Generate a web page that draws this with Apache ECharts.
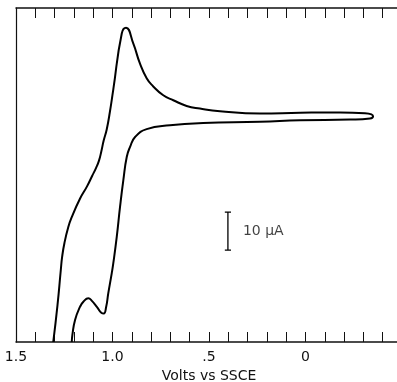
<!DOCTYPE html>
<html>
<head>
<meta charset="utf-8">
<script src="https://cdn.jsdelivr.net/npm/echarts@6/dist/echarts.min.js"></script>
<style>
html,body{margin:0;padding:0;background:#fff;}
#main{width:397px;height:382px;}
</style>
</head>
<body>
<div id="main"></div>
<script>
// cyclic voltammogram, traced point by point (V vs SSCE, uA)
var volts = [1.307, 1.285, 1.268, 1.261, 1.249, 1.229, 1.211, 1.168, 1.132, 1.105, 1.085, 1.070, 1.058,
  1.046, 1.030, 1.013, 0.996, 0.952, 0.930,
  0.892, 0.858, 0.823, 0.790, 0.737, 0.685, 0.616, 0.547, 0.443, 0.236, 0.028, -0.179, -0.308, -0.350,
  -0.334, -0.231, 0.028, 0.236, 0.530, 0.702, 0.823, 0.883, 0.909, 0.926, 0.944, 0.961, 0.978, 0.996,
  1.004, 1.022, 1.033, 1.045, 1.058, 1.080, 1.108, 1.125, 1.151, 1.168, 1.194, 1.208, 1.211];
var current = [0, 9.7, 18.9, 22.4, 26.1, 30.3, 32.9, 37.8, 41.0, 43.8, 45.9, 47.8, 50.2,
  53.0, 56.0, 60.8, 66.5, 81.3, 82.8,
  78.6, 73.4, 69.5, 67.4, 65.0, 63.7, 62.2, 61.5, 60.8, 60.2, 60.4, 60.5, 60.3, 59.5,
  58.9, 58.6, 58.4, 58.0, 57.7, 57.1, 56.1, 54.0, 51.4, 48.8, 42.6, 35.6, 27.7, 20.7,
  18.1, 12.8, 9.2, 7.5, 7.7, 9.2, 10.9, 11.5, 10.6, 9.3, 5.8, 1.8, 0];

// axis ticks / labels
var tickLabels = {'1.5': '1.5', '1': '1.0', '0.5': '.5', '0': '0'};

// 10 uA scale bar
var barV = 0.402;
var barLow = 24.2;
var barHigh = 34.2;
var barText = '10 \u03bcA';

var cv = [];
for (var i = 0; i < volts.length; i++) {
	cv.push([volts[i], current[i]]);
}
var sw = 0.016;
var bar = [
	[barV + sw, barHigh], [barV - sw, barHigh], [barV, barHigh],
	[barV, barLow], [barV - sw, barLow], [barV + sw, barLow]
];

var myChart = echarts.init(document.querySelector('#main'));

var xBase = {
	type: 'value',
	min: -0.5,
	max: 1.5,
	interval: 0.1,
	inverse: true,
	splitLine: {show: false},
	axisLine: {show: true, onZero: false, lineStyle: {color: '#111', width: 1.5}},
	axisTick: {show: true, inside: true, length: 10, lineStyle: {color: '#111', width: 1}}
};

var option = {
	animation: false,
	backgroundColor: '#fff',
	grid: {left: 16, width: 386, top: 8, bottom: 40, containLabel: false, outerBoundsMode: 'none'},
	xAxis: [
		Object.assign({}, xBase, {
			position: 'bottom',
			name: 'Volts vs SSCE',
			nameLocation: 'middle',
			nameGap: 27,
			nameTextStyle: {color: '#111', fontSize: 14, fontFamily: 'DejaVu Sans'},
			axisLabel: {
				show: true, margin: 8, color: '#111', fontSize: 14, fontFamily: 'DejaVu Sans',
				formatter: function (v) {
					var k = String(Math.round(v * 10) / 10);
					return tickLabels[k] || '';
				}
			}
		}),
		Object.assign({}, xBase, {position: 'top', axisLabel: {show: false}})
	],
	yAxis: {
		type: 'value',
		min: 0,
		max: 88,
		splitLine: {show: false},
		axisLabel: {show: false},
		axisTick: {show: false},
		axisLine: {show: true, onZero: false, lineStyle: {color: '#111', width: 1.2}}
	},
	series: [
		{
			name: 'cv',
			type: 'line',
			data: cv,
			smooth: 0.5,
			symbol: 'none',
			clip: true,
			lineStyle: {color: '#000', width: 2}
		},
		{
			name: 'scale',
			type: 'line',
			data: bar,
			symbol: 'none',
			lineStyle: {color: '#000', width: 1.3}
		},
		{
			name: 'scale label',
			type: 'scatter',
			data: [[barV, (barLow + barHigh) / 2]],
			symbolSize: 0,
			label: {show: true, position: 'right', distance: 15, formatter: barText,
				color: '#111', fontSize: 14, fontFamily: 'DejaVu Sans'}
		}
	]
};

myChart.setOption(option);
</script>
</body>
</html>
